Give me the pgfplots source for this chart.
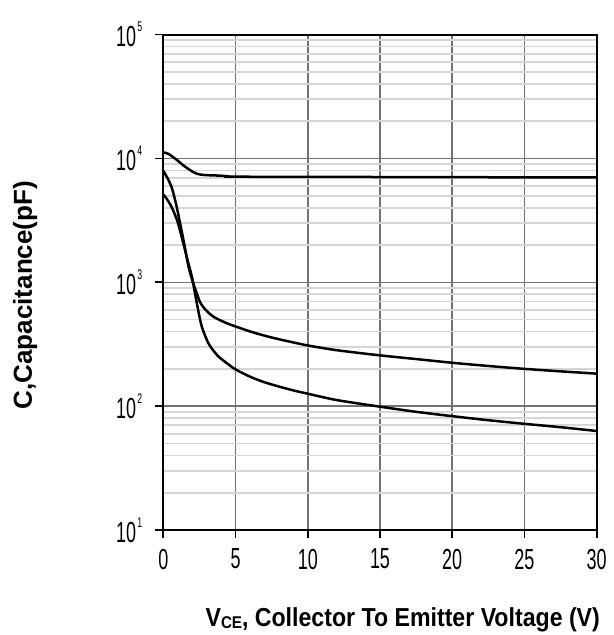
\documentclass[border=0pt]{standalone}
\usepackage{fontspec}
\setmainfont{Liberation Sans}
\newfontfamily\tickfont[FakeStretch=0.62]{Liberation Sans}
\newfontfamily\xlabfont[FakeStretch=0.89]{Liberation Sans}
\usepackage{pgfplots}
\pgfplotsset{compat=1.18}
\newcommand\sep[1]{\hspace{0.6pt}\raisebox{7.5pt}{\fontsize{7}{7}\selectfont #1}}
\begin{document}
\begin{tikzpicture}
\path (-81.65pt,-52.5pt) rectangle (224.35pt,265pt);
\begin{axis}[
  at={(0,0)}, anchor=south west, scale only axis,
  width=216.7pt, height=247.7pt,
  ymode=log, log basis y=10,
  xmin=0, xmax=30, ymin=10, ymax=100000,
  xtick={0,5,10,15,20,25,30},
  xticklabels={0,5,10,15,20,25,30},
  ytick={10,100,1000,10000,100000},
  yticklabels={10\sep{1},10\sep{2},10\sep{3},10\sep{4},10\sep{5}},
  minor ytick={20,30,40,50,60,70,80,90,200,300,400,500,600,700,800,900,2000,3000,4000,5000,6000,7000,8000,9000,20000,30000,40000,50000,60000,70000,80000,90000},
  tick align=outside, major tick length=4pt, minor tick length=0pt,
  xtick pos=bottom, ytick pos=left,
  tick style={black, line width=0.9pt},
  ticklabel style={font=\tickfont\fontsize{14.5}{14.5}\selectfont},
  yticklabel style={anchor=east, xshift=-3pt},
  xticklabel style={anchor=north, yshift=-2pt},
  xmajorgrids, ymajorgrids, yminorgrids,
  major grid style={black!55, line width=0.75pt},
  minor grid style={black!16, line width=0.9pt},
  axis line style={black, line width=1pt},
  xlabel={{\xlabfont\bfseries V\raisebox{-0.8pt}{\fontsize{8.5}{8.5}\selectfont CE}, Collector To Emitter Voltage (V)}},
  xlabel style={at={(axis description cs:1,0)}, anchor=base east, xshift=1.8pt, yshift=-48.3pt, font=\fontsize{13}{13}\selectfont, inner sep=0pt},
  ylabel={C,Capacitance(pF)},
  ylabel style={at={(axis description cs:-0.319,0.474)}, anchor=center, font=\fontsize{13}{13}\selectfont\bfseries, inner sep=0pt},
]
% Cies
\addplot[black, line width=1.25pt, mark=none, smooth, tension=0.45] coordinates {(0,11200) (0.35,10900) (0.7,10200) (1.0,9600) (1.3,8950) (1.62,8400) (2.0,7850) (2.3,7550) (2.6,7400) (3.0,7330) (3.6,7290) (4.2,7230) (4.6,7140) (5,7120) (10,7100) (15,7080) (20,7060) (25,7040) (30,7030)};
% Coes
\addplot[black, line width=1.25pt, mark=none, smooth, tension=0.45] coordinates {(0,7940) (0.3,6900) (0.6,5750) (0.9,4200) (1.2,2850) (1.5,1900) (1.75,1330) (2.08,975) (2.3,825) (2.54,693) (2.8,624) (3.12,569) (3.5,525) (4.0,490) (4.5,462) (5,440) (6,401) (7,371) (8,347) (9,327) (10,309) (12,283) (15,257) (17.5,240) (20,224) (22.5,211) (25,200) (27.5,191) (30,183)};
% Cres
\addplot[black, line width=1.25pt, mark=none, smooth, tension=0.45] coordinates {(0,5130) (0.3,4600) (0.6,4000) (1.0,3050) (1.4,2030) (1.73,1430) (2.0,1080) (2.31,690) (2.66,440) (3.12,322) (3.5,278) (3.81,252) (4.4,222) (5,198) (6,173) (7,156) (8,144) (9,134) (10,126) (12,112) (15,99) (17.5,90) (20,83) (22.5,77) (25,72) (27.5,67.6) (30,63)};
\end{axis}
\end{tikzpicture}
\end{document}
